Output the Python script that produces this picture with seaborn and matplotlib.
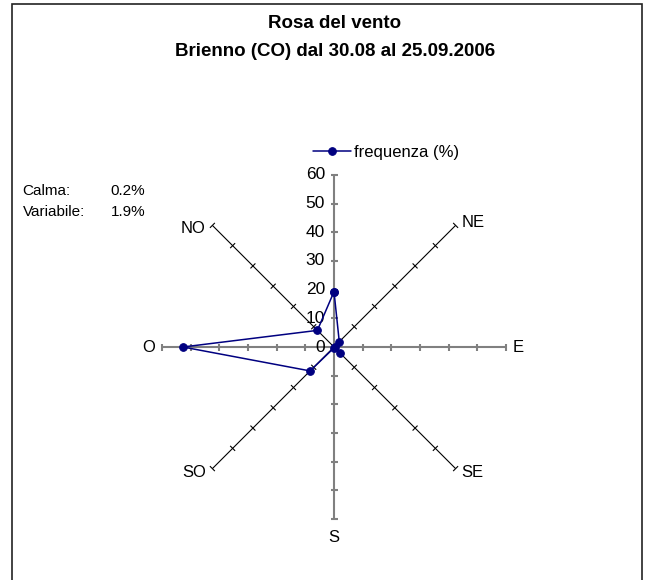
import numpy as np
import pandas as pd
import matplotlib
matplotlib.use("Agg")
import matplotlib.pyplot as plt
import seaborn as sns
from matplotlib.patches import Rectangle

# wind directions, clockwise from north
directions = ["N", "NE", "E", "SE", "S", "SO", "O", "NO"]
axis_labels = ["", "NE", "E", "SE", "S", "SO", "O", "NO"]
frequency = [19.3, 2.6, 0.5, 2.9, 0.3, 11.8, 52.7, 8.2]
radial_ticks = [0, 10, 20, 30, 40, 50, 60]
series_name = "frequenza (%)"
title = "Rosa del vento"
subtitle = "Brienno (CO) dal 30.08 al 25.09.2006"
note_names = ["Calma:", "Variabile:"]
note_values = ["0.2%", "1.9%"]

# figure geometry (pixels)
W, H = 650, 580
CX, CY = 334, 347          # centre of the rose, from top-left
PX = 172 / 60              # pixels per data unit

sns.set_style("white")
plt.rcParams["font.family"] = ["Liberation Sans", "DejaVu Sans"]
plt.rcParams["text.color"] = "black"

fig = plt.figure(figsize=(W / 100, H / 100), dpi=100)
ax = fig.add_axes([0, 0, 1, 1])
ax.set_xlim(-CX / PX, (W - CX) / PX)
ax.set_ylim(-(H - CY) / PX, CY / PX)
ax.set_axis_off()

angles = np.deg2rad(np.arange(len(directions)) * 360 / len(directions))
ux, uy = np.sin(angles), np.cos(angles)
rmax = radial_ticks[-1]
half = 3.5 / PX

# spokes with cross ticks
for i, (dx, dy) in enumerate(zip(ux, uy)):
    cardinal = i % 2 == 0
    col = "#808080" if cardinal else "black"
    lw = 1.5 if cardinal else 0.8
    ax.plot([0, dx * rmax], [0, dy * rmax], color=col, lw=lw,
            solid_capstyle="butt", zorder=1)
    for r in radial_ticks[1:]:
        x0, y0 = dx * r, dy * r
        ax.plot([x0 - dy * half, x0 + dy * half], [y0 + dx * half, y0 - dx * half],
                color=col, lw=lw, solid_capstyle="butt", zorder=1)

# direction labels: offsets in pixels from spoke end
offsets = {
    "NE": (6, 3, "left"), "E": (7, 0, "left"), "SE": (6, -4, "left"),
    "S": (0, -19, "center"), "SO": (-6, -4, "right"), "O": (-7, 0, "right"),
    "NO": (-7, -3, "right"),
}
for lab, dx, dy in zip(axis_labels, ux, uy):
    if not lab:
        continue
    ox, oy, ha = offsets[lab]
    ax.text(dx * rmax + ox / PX, dy * rmax + oy / PX, lab, ha=ha, va="center",
            fontsize=12)

# value labels along the north spoke
for r in radial_ticks:
    ax.text(-9 / PX, r, str(r), ha="right", va="center", fontsize=12.5)

# the series, closed polygon
df = pd.DataFrame({"dir": directions,
                   "x": ux * np.array(frequency),
                   "y": uy * np.array(frequency)})
closed = pd.concat([df, df.iloc[[0]]], ignore_index=True)
sns.lineplot(data=closed, x="x", y="y", sort=False, estimator=None,
             color="#000080", lw=1.1, marker="o", markersize=5.5,
             markeredgecolor="#000080", label=series_name, ax=ax, zorder=3)

ax.legend(loc="center left", bbox_to_anchor=(313 / W, 1 - 152 / H),
          bbox_transform=fig.transFigure, frameon=False, borderpad=0,
          borderaxespad=0, handlelength=2.25, handletextpad=0.2, fontsize=12,
          labelcolor="black")

# titles and notes
fig.text(335 / W, 1 - 23 / H, title, ha="center", va="center",
         fontsize=13.5, fontweight="bold")
fig.text(335 / W, 1 - 51 / H, subtitle, ha="center", va="center",
         fontsize=13.5, fontweight="bold")
for j, (name, val) in enumerate(zip(note_names, note_values)):
    yy = 1 - (191 + 21 * j) / H
    fig.text(22.7 / W, yy, name, ha="left", va="center", fontsize=11)
    fig.text(145 / W, yy, val, ha="right", va="center", fontsize=11)

# chart area border
fig.patches.append(Rectangle((12 / W, -0.01), 630 / W, 1 - 3.5 / H + 0.01,
                             transform=fig.transFigure, fill=False,
                             edgecolor="#222222", lw=1.2))

fig.savefig("out.png", dpi=100)
